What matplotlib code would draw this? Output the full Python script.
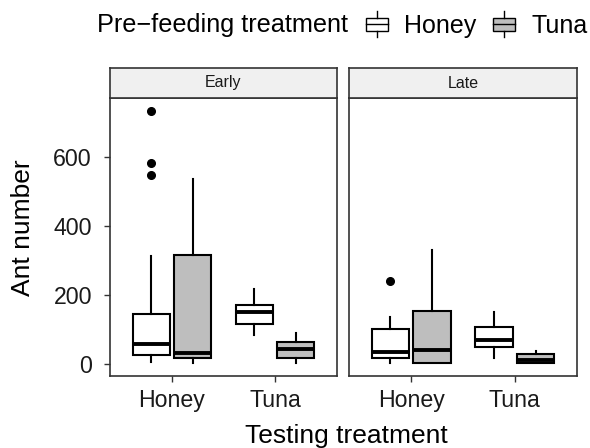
import matplotlib
matplotlib.use("Agg")
import matplotlib.pyplot as plt
from matplotlib.patches import Rectangle
from matplotlib.lines import Line2D
from matplotlib.legend_handler import HandlerBase

plt.rcParams['font.family'] = ['Liberation Sans', 'DejaVu Sans']

# ---- data ----
panels = ['Early', 'Late']
testing = ['Honey', 'Tuna']
prefeed = ['Honey', 'Tuna']
fills = ['white', '#BEBEBE']

# order: panel -> testing treatment -> pre-feeding treatment
whis_lo = [6, 2, 84, 2, 2, 3, 18, 3]
q1 = [27, 17, 116, 16, 18, 4, 48, 4]
med = [58, 31, 150, 44, 36, 41, 70, 10]
q3 = [145, 317, 172, 65, 100, 154, 108, 28]
whis_hi = [313, 535, 216, 91, 137, 330, 150, 37]
fliers = [[734, 582, 549], [], [], [], [241], [], [], []]

edge = '#333333'


class BoxKey(HandlerBase):
    # boxplot-like legend key
    def create_artists(self, legend, orig_handle, xd, yd, w, h, fontsize, trans):
        x0, y0 = -xd, -yd
        fc = orig_handle.get_facecolor()
        box = Rectangle((x0 + 0.1 * w, y0 + 0.22 * h), 0.8 * w, 0.56 * h,
                        facecolor=fc, edgecolor='black', lw=1.0, transform=trans)
        m = Line2D([x0 + 0.1 * w, x0 + 0.9 * w], [y0 + 0.5 * h] * 2,
                   color='black', lw=1.0, transform=trans)
        wl = Line2D([x0 + 0.5 * w] * 2, [y0 - 0.05 * h, y0 + 0.22 * h],
                    color='black', lw=1.0, transform=trans)
        wh = Line2D([x0 + 0.5 * w] * 2, [y0 + 0.78 * h, y0 + 1.05 * h],
                    color='black', lw=1.0, transform=trans)
        return [box, m, wl, wh]


fig = plt.figure(figsize=(5.9, 4.48), dpi=100)

W, H = 590, 448
lefts = [110, 349]
rights = [337, 577]
top, bottom, strip_top = 98, 376, 68

for pi, pname in enumerate(panels):
    l, r = lefts[pi], rights[pi]
    ax = fig.add_axes([l / W, 1 - bottom / H, (r - l) / W, (bottom - top) / H])
    sax = fig.add_axes([l / W, 1 - top / H, (r - l) / W, (top - strip_top) / H])

    for ti in range(len(testing)):
        for fi in range(len(prefeed)):
            k = pi * 4 + ti * 2 + fi
            st = dict(whislo=whis_lo[k], q1=q1[k], med=med[k], q3=q3[k],
                      whishi=whis_hi[k], fliers=fliers[k])
            pos = ti + 1 + (fi - 0.5) * 0.4
            ax.bxp([st], positions=[pos], widths=0.36, patch_artist=True,
                   showcaps=False,
                   boxprops=dict(facecolor=fills[fi], edgecolor='black', lw=1.5),
                   medianprops=dict(color='black', lw=2.8, solid_capstyle='butt'),
                   whiskerprops=dict(color='black', lw=1.5),
                   flierprops=dict(marker='o', markersize=5.5,
                                   markerfacecolor='black',
                                   markeredgecolor='black'))

    ax.set_xlim(0.4, 2.6)
    ax.set_ylim(-35, 771)
    ax.set_xticks([1, 2])
    ax.set_xticklabels(testing, fontsize=16.7, color='#1a1a1a')
    if pi == 0:
        ax.set_yticks([0, 200, 400, 600])
        ax.tick_params(axis='y', labelsize=16.7, labelcolor='#1a1a1a', pad=9)
    else:
        ax.set_yticks([])
    ax.tick_params(direction='out', length=4, width=1.0, color=edge)
    ax.tick_params(axis='x', pad=5)
    for s in ax.spines.values():
        s.set_color(edge)
        s.set_linewidth(1.2)

    sax.set_facecolor('#F0F0F0')
    sax.set_xticks([])
    sax.set_yticks([])
    for s in sax.spines.values():
        s.set_color(edge)
        s.set_linewidth(1.2)
    sax.text(0.5, 0.5, pname, ha='center', va='center', fontsize=11.5,
             color='#1a1a1a', transform=sax.transAxes)

fig.text(346 / W, 1 - 436 / H, 'Testing treatment', ha='center', va='center',
         fontsize=19)
fig.text(23 / W, 1 - 228 / H, 'Ant number', ha='center', va='center',
         rotation=90, fontsize=19)

fig.text(97 / W, 1 - 25 / H, 'Pre\u2212feeding treatment', ha='left',
         va='center', fontsize=18.2)
handles = [Rectangle((0, 0), 1, 1, facecolor=c, edgecolor='black') for c in fills]
fig.legend(handles=handles, labels=prefeed, ncol=2,
           handler_map={Rectangle: BoxKey()}, loc='center left',
           bbox_to_anchor=(363 / W, 1 - 25 / H), frameon=False,
           fontsize=18, handlelength=1.1, handleheight=1.1,
           handletextpad=0.55, columnspacing=0.55, borderpad=0, borderaxespad=0)

fig.savefig('out.png', dpi=100)
